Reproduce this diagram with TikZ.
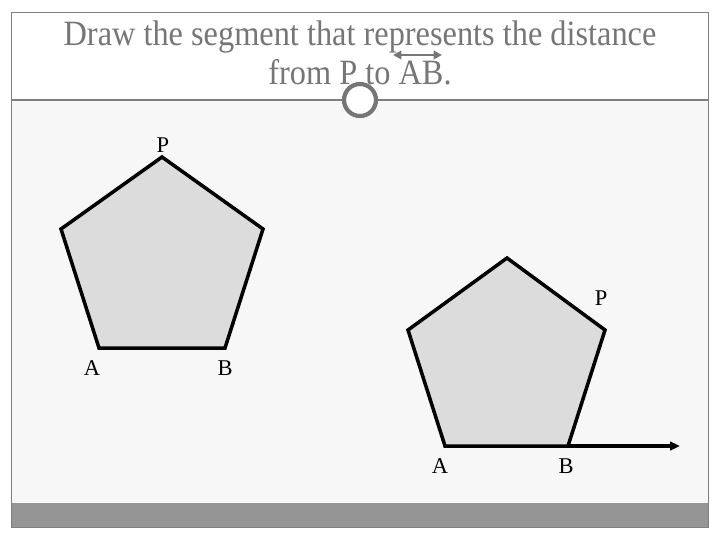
\documentclass[tikz,border=0pt]{standalone}
\usepackage{fontspec}
\setmainfont{Liberation Serif}
\usetikzlibrary{arrows.meta}
\definecolor{framegray}{HTML}{808080}
\definecolor{titlegray}{HTML}{767676}
\definecolor{pagegray}{HTML}{F7F7F7}
\definecolor{bargray}{HTML}{959595}
\definecolor{pentfill}{HTML}{DCDCDC}
\tikzset{
  pent/.style={fill=pentfill, draw=black, line width=2.5pt, line join=miter},
  lbl/.style={font=\fontsize{16}{18}\selectfont, inner sep=0pt},
  ray/.style={line width=2.5pt, -{Triangle[length=7pt,width=6pt]}}
}

\begin{document}
\begin{tikzpicture}[x=0.025cm, y=-0.025cm]
			%%%%% FRAME %%%%%
			\useasboundingbox (0, 0) rectangle (720, 540);
			\fill[white] (0, 0) rectangle (720, 540);
			\fill[pagegray] (11, 100) rectangle (708, 503);
			\fill[bargray] (11, 503) rectangle (708, 527);
			\draw[framegray, line width=0.6pt] (11, 12) rectangle (708, 527);
			\draw[framegray, line width=0.8pt] (11, 100) -- (708, 100);
			
			%%%%% TITLE %%%%%
			\node[titlegray, font=\fontsize{23}{25.5}\selectfont, align=center, yscale=1.1] (title) at (360, 53)
			  {Draw the segment that represents the distance\\from P to AB.};
			\draw[titlegray, line width=2pt, {Triangle[length=6pt,width=6pt]}-{Triangle[length=6pt,width=6pt]}] (393, 55) -- (442, 55);
			\draw[titlegray, line width=3pt, fill=white] (360, 100) circle (16);
			
			%%%%% FIRST PENTAGON %%%%%
			\coordinate (P1) at (162, 157);
			\coordinate (R1) at (263, 229);
			\coordinate (B1) at (225, 348);
			\coordinate (A1) at (99, 348);
			\coordinate (L1) at (61, 229);
			\draw[pent] (P1) -- (R1) -- (B1) -- (A1) -- (L1) -- cycle;
			\node[lbl] (p1) at (163, 145) {P};
			\node[lbl] (a1) at (92, 368) {A};
			\node[lbl] (b1) at (225, 368) {B};
			
			%%%%% SECOND PENTAGON %%%%%
			\coordinate (T2) at (507, 258);
			\coordinate (P2) at (605, 330);
			\coordinate (B2) at (568, 446);
			\coordinate (A2) at (445, 446);
			\coordinate (L2) at (408, 330);
			\coordinate (E2) at (680, 446);
			\draw[pent] (T2) -- (P2) -- (B2) -- (A2) -- (L2) -- cycle;
			\draw[ray] (B2) -- (E2);
			\node[lbl] (p2) at (601, 298) {P};
			\node[lbl] (a2) at (440, 466) {A};
			\node[lbl] (b2) at (566, 466) {B};
			
			%%%%% END %%%%%
		\end{tikzpicture}
\end{document}
